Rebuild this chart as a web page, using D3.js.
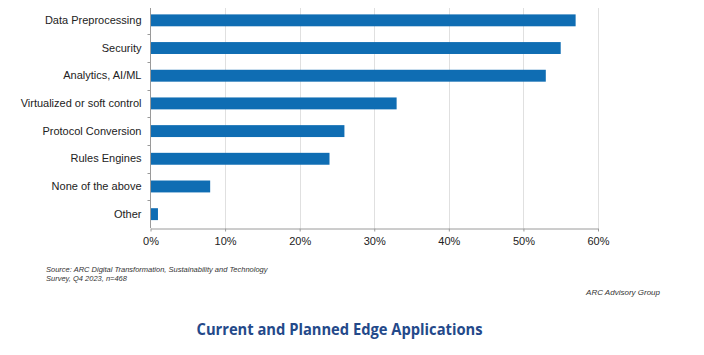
<!DOCTYPE html>
<html><head><meta charset="utf-8">
<script src="https://cdn.jsdelivr.net/npm/d3@7/dist/d3.min.js"></script>
<style>body{margin:0;background:#fff;}svg{display:block;}</style>
</head><body><svg id="c" width="704" height="355"></svg>
<script>
const categories = ["Data Preprocessing","Security","Analytics, AI/ML","Virtualized or soft control","Protocol Conversion","Rules Engines","None of the above","Other"];
const values = [57, 55, 53, 33, 26, 24, 8, 1];
const xTicks = [0, 10, 20, 30, 40, 50, 60];
const sourceLines = ["Source: ARC Digital Transformation, Sustainability and Technology","Survey, Q4 2023, n=468"];
const credit = "ARC Advisory Group";
const title = "Current and Planned Edge Applications";

const svg = d3.select("#c");
const x = d3.scaleLinear().domain([0, 60]).range([150.5, 598]);
const y = d3.scaleBand().domain(categories).range([6.5, 228]).paddingInner(0.57).paddingOuter(0.285);

// gridlines
svg.append("g").selectAll("line").data(xTicks.slice(1)).join("line")
  .attr("x1", d => Math.round(x(d)) + 0.5).attr("x2", d => Math.round(x(d)) + 0.5)
  .attr("y1", 8).attr("y2", 228).attr("stroke", "#e0e0e0").attr("stroke-width", 1);

// bars
svg.append("g").selectAll("rect").data(values).join("rect")
  .attr("x", x(0)).attr("y", (d, i) => y(categories[i]))
  .attr("width", d => x(d) - x(0)).attr("height", y.bandwidth())
  .attr("fill", "#0f6db3");

// x axis
const xa = svg.append("g").attr("transform", "translate(0,228.5)")
  .call(d3.axisBottom(x).tickValues(xTicks).tickFormat(d => d + "%").tickSize(3).tickSizeOuter(0));
xa.select(".domain").attr("stroke", "#9a9a9a");
xa.selectAll(".tick line").attr("stroke", "#9a9a9a");
xa.selectAll("text").attr("font-family", "Liberation Sans, Arial, sans-serif").attr("font-size", 11).attr("fill", "#222").attr("dy", "0.95em");

// y axis
const ya = svg.append("g").attr("transform", "translate(150.5,0)")
  .call(d3.axisLeft(y).tickSize(0).tickPadding(9));
ya.select(".domain").attr("stroke", "#9a9a9a").attr("d", "M0,8V228");
ya.selectAll("text").attr("font-family", "Liberation Sans, Arial, sans-serif").attr("font-size", 11).attr("fill", "#222");
// boundary tick marks between categories
const bounds = categories.slice(1).map(c => y(c) - y.step() * y.paddingInner() / 2);
svg.append("g").selectAll("line").data(bounds).join("line")
  .attr("x1", 147.5).attr("x2", 150.5).attr("y1", d => Math.round(d) + 0.5).attr("y2", d => Math.round(d) + 0.5)
  .attr("stroke", "#9a9a9a");

// source
svg.append("g").selectAll("text").data(sourceLines).join("text")
  .attr("x", 46).attr("y", (d, i) => 271.5 + i * 9.5)
  .attr("font-family", "Liberation Sans, Arial, sans-serif").attr("font-style", "italic")
  .attr("font-size", 7.5).attr("fill", "#333").text(d => d);

svg.append("text").attr("x", 660).attr("y", 295).attr("text-anchor", "end")
  .attr("font-family", "Liberation Sans, Arial, sans-serif").attr("font-style", "italic")
  .attr("font-size", 8).attr("fill", "#333").text(credit);

svg.append("text").attr("x", 339.5).attr("y", 334.5).attr("text-anchor", "middle")
  .attr("font-family", "Open Sans, Liberation Sans, sans-serif").attr("font-weight", "bold")
  .attr("font-size", 16).attr("fill", "#24498a")
  .attr("textLength", 286).attr("lengthAdjust", "spacingAndGlyphs").text(title);
</script></body></html>
